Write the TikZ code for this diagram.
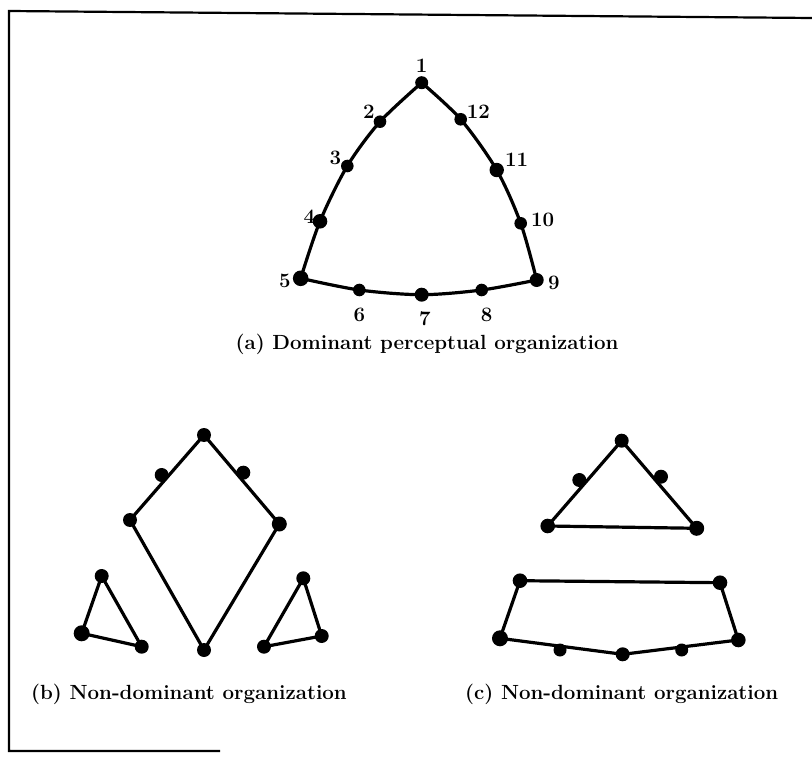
\documentclass[tikz,border=0pt]{standalone}
\begin{document}
\begin{tikzpicture}[x=1pt,y=-1pt,
  edge/.style={line width=3.2pt,line join=round,line cap=round},
  dot/.style={fill=black},
  lbl/.style={font=\fontsize{20.5}{24}\selectfont\bfseries,inner sep=0pt},
  captxt/.style={font=\fontsize{20.5}{24}\selectfont\bfseries,inner sep=0pt,anchor=west},
  frameline/.style={line width=2.2pt}]
\useasboundingbox (0,0) rectangle (812,757);
% frame
\coordinate (ftl) at (9,11);
\coordinate (ftr) at (812,18);
\coordinate (fbl) at (9,751);
\coordinate (fbr) at (220,751);
\draw[frameline] (ftr) -- (ftl) -- (fbl) -- (fbr);
% (a)
\coordinate (p1) at (421.7,82.7);
\coordinate (p2) at (380,121.7);
\coordinate (p3) at (347.3,166);
\coordinate (p4) at (320,221.3);
\coordinate (p5) at (300.7,278.3);
\coordinate (p6) at (359.3,290);
\coordinate (p7) at (421.7,294.7);
\coordinate (p8) at (481.7,290);
\coordinate (p9) at (536.7,280);
\coordinate (p10) at (520.7,223.3);
\coordinate (p11) at (496.7,170);
\coordinate (p12) at (460.7,119.3);
\draw[edge] plot[smooth,tension=0.5] coordinates {(p1) (p2) (p3) (p4) (p5)};
\draw[edge] plot[smooth,tension=0.5] coordinates {(p5) (p6) (p7) (p8) (p9)};
\draw[edge] plot[smooth,tension=0.5] coordinates {(p9) (p10) (p11) (p12) (p1)};
\foreach \n/\r in {1/6.5,2/6.3,3/6.3,4/7.3,5/7.8,6/6.3,7/7,8/6.3,9/7,10/6.3,11/7.2,12/6.3}
  \fill[dot] (p\n) circle (\r);
\node[lbl] (l1) at (421.7,66) {1};
\node[lbl] (l2) at (369,111.7) {2};
\node[lbl] (l3) at (335.3,158.3) {3};
\node[lbl] (l4) at (309.3,216.7) {4};
\node[lbl] (l5) at (285,280.7) {5};
\node[lbl] (l6) at (359.3,315) {6};
\node[lbl] (l7) at (425,319) {7};
\node[lbl] (l8) at (486.7,315) {8};
\node[lbl] (l9) at (554,283.3) {9};
\node[lbl] (l10) at (542.7,220) {10};
\node[lbl] (l11) at (516.7,160) {11};
\node[lbl] (l12) at (478.3,111.7) {12};
\node[captxt,anchor=center] (capa) at (427,344) {(a) Dominant perceptual organization};
% (b) diamond
\coordinate (bt) at (204,435);
\coordinate (bl) at (130,520);
\coordinate (br) at (279.3,524);
\coordinate (bb) at (204,650);
\coordinate (bm1) at (161.7,475);
\coordinate (bm2) at (243.3,472.7);
\draw[edge] (bt) -- (bl) -- (bb) -- (br) -- cycle;
\foreach \c/\r in {bt/7,bl/7,br/7.5,bb/7,bm1/7,bm2/7}
  \fill[dot] (\c) circle (\r);
% (b) left triangle
\coordinate (lt) at (101.7,576);
\coordinate (ll) at (81.7,633.3);
\coordinate (lr) at (141.7,646.7);
\draw[edge] (lt) -- (ll) -- (lr) -- cycle;
\foreach \c/\r in {lt/7,ll/8,lr/7}
  \fill[dot] (\c) circle (\r);
% (b) right triangle
\coordinate (rt) at (303.3,578.3);
\coordinate (rr) at (321.7,636);
\coordinate (rl) at (264,646.7);
\draw[edge] (rt) -- (rr) -- (rl) -- cycle;
\foreach \c/\r in {rt/7,rr/7,rl/7}
  \fill[dot] (\c) circle (\r);
\node[captxt] (capb) at (31,694) {(b) Non-dominant organization};
% (c) triangle
\coordinate (ct) at (621.7,440.7);
\coordinate (cl) at (547.7,526);
\coordinate (cr) at (696.7,528.3);
\coordinate (cm1) at (579.3,480);
\coordinate (cm2) at (661,476.7);
\draw[edge] (ct) -- (cl) -- (cr) -- cycle;
\foreach \c/\r in {ct/7,cl/7.3,cr/7.5,cm1/7,cm2/7}
  \fill[dot] (\c) circle (\r);
% (c) polygon
\coordinate (qtl) at (520,580.7);
\coordinate (qtr) at (720,582.7);
\coordinate (qbr) at (738.3,640);
\coordinate (qbl) at (500,638.3);
\coordinate (qm) at (622.7,654.3);
\coordinate (qa) at (560,650);
\coordinate (qb) at (681.7,650);
\draw[edge] (qtl) -- (qtr) -- (qbr) -- (qm) -- (qbl) -- cycle;
\foreach \c/\r in {qtl/7.3,qtr/7.3,qbr/7.3,qbl/8,qm/7,qa/6.5,qb/6.5}
  \fill[dot] (\c) circle (\r);
\node[captxt] (capc) at (465,694) {(c) Non-dominant organization};
\end{tikzpicture}
\end{document}
